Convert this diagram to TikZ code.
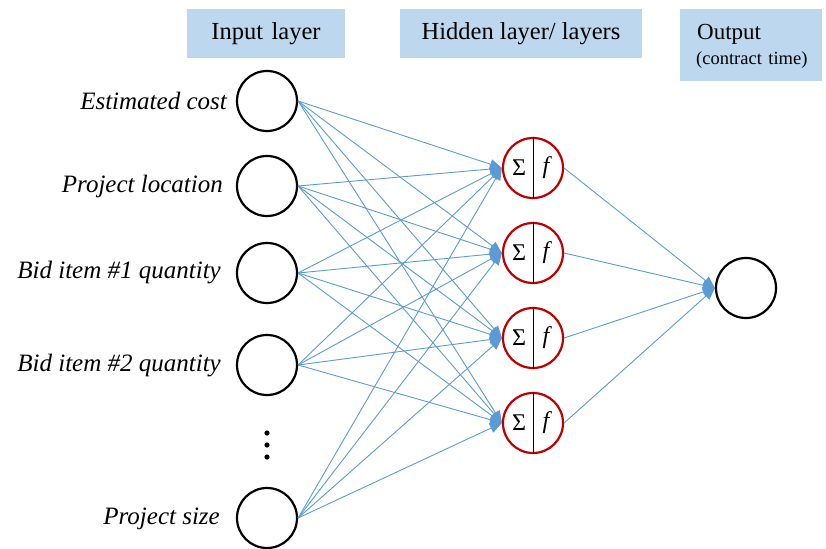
\documentclass[tikz,border=0pt]{standalone}
\usepackage{fontspec}
\setmainfont{Liberation Serif}
\usetikzlibrary{arrows.meta}
\definecolor{lineblue}{HTML}{5B9BD5}
\definecolor{hdrfill}{HTML}{BDD7EE}
\definecolor{nred}{HTML}{C00000}
\begin{document}
\begin{tikzpicture}[x=1pt,y=-1pt,
  hdr/.style={fill=hdrfill, inner sep=0pt, font=\fontsize{24.5}{28}\selectfont},
  inneuron/.style={circle, draw=black, line width=2.2pt, minimum size=60pt, inner sep=0pt},
  hidneuron/.style={circle, draw=nred, line width=2.2pt, minimum size=60pt, inner sep=0pt},
  lbl/.style={anchor=east, font=\fontsize{25}{29}\selectfont\itshape, inner sep=0pt},
  conn/.style={draw=lineblue, line width=0.9pt, -{Triangle[length=12pt,width=10pt]}},
  sym/.style={font=\fontsize{24}{28}\selectfont, inner sep=0pt}
]
\useasboundingbox (0,0) rectangle (826,548);
% headers
\node[hdr, minimum width=158pt, minimum height=49pt] (hin) at (266,33.5) {Input\hspace{0.35em}layer};
\node[hdr, minimum width=242pt, minimum height=49pt] (hhid) at (521,33.5) {Hidden layer/ layers};
\node[hdr, minimum width=142pt, minimum height=72pt] (hout) at (751,45) {};
\node[anchor=west, inner sep=0pt, font=\fontsize{23}{26}\selectfont] (touta) at (697,34) {Output};
\node[anchor=west, inner sep=0pt, font=\fontsize{18.5}{21}\selectfont] (toutb) at (696,60) {(contract\hspace{0.35em}time)};
% input neurons
\node[inneuron] (i1) at (267,101) {};
\node[inneuron] (i2) at (267,186) {};
\node[inneuron] (i3) at (267,273) {};
\node[inneuron] (i4) at (267,365) {};
\node[inneuron] (i5) at (267,518) {};
\node[lbl] (l1) at (227,101) {Estimated cost};
\node[lbl] (l2) at (223,186) {Project location};
\node[lbl] (l3) at (221,273) {Bid item \#1 quantity};
\node[lbl] (l4) at (221,366) {Bid item \#2 quantity};
\node[lbl] (l5) at (220,519) {Project size};
% dots
\fill (267,433) circle (2.6pt) (267,445) circle (2.6pt) (267,457) circle (2.6pt);
% hidden neurons
\foreach \n/\y in {1/168,2/253,3/338,4/423}{
  \node[hidneuron] (h\n) at (533,\y) {};
  \draw[line width=1pt] (h\n.north) -- (h\n.south);
  \node[sym] (s\n) at (519,\y) {Σ};
  \node[sym] (f\n) at (546,\y) {\itshape f};
}
% output neuron
\node[inneuron] (o) at (746,288) {};
% connections
\foreach \i in {1,...,5}{
  \foreach \h in {1,...,4}{
    \draw[conn] (i\i.east) -- (h\h.west);
  }
}
\foreach \h in {1,...,4}{
  \draw[conn] (h\h.east) -- (o.west);
}
\end{tikzpicture}
\end{document}
